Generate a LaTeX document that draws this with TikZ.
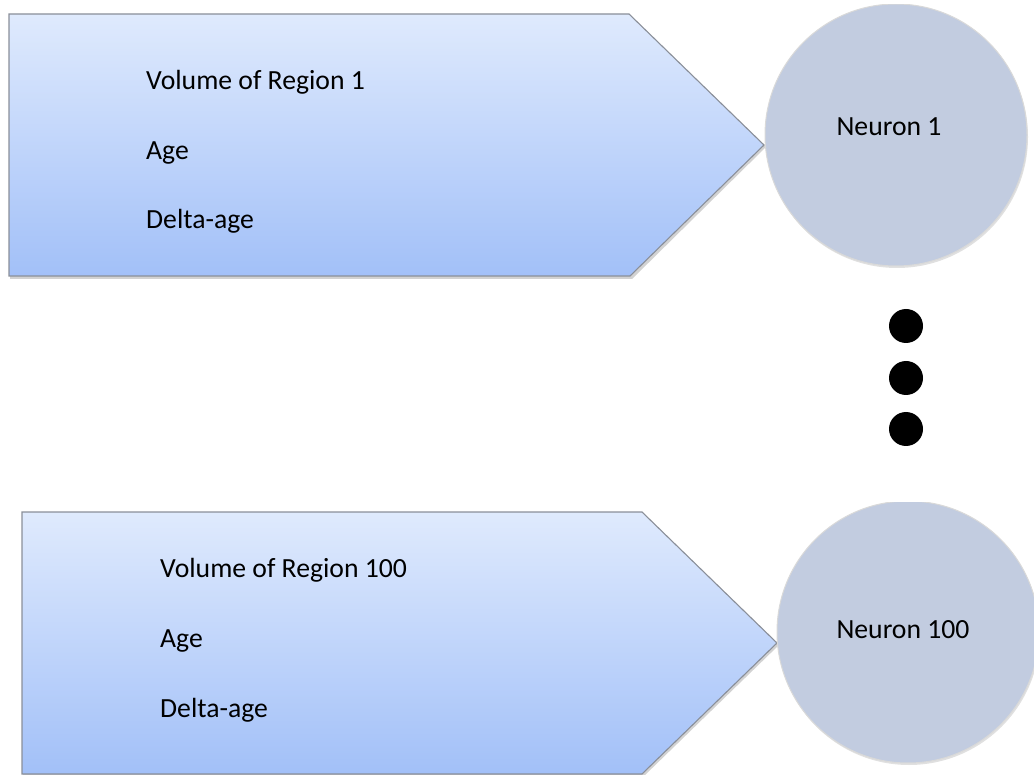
\documentclass[tikz,border=0pt]{standalone}
\usepackage{fontspec}
\setmainfont{Carlito}
\usetikzlibrary{shadings}
\definecolor{gradtop}{HTML}{DFEAFD}
\definecolor{gradbot}{HTML}{A2C0F8}
\definecolor{circfill}{HTML}{C2CCE0}
\definecolor{edgegray}{HTML}{8A8F99}
\tikzset{
  arrowshape/.style={top color=gradtop, bottom color=gradbot, draw=edgegray, line width=1.1pt, line join=miter},
  arrowshadow/.style={fill=black!35, draw=none, opacity=0.5},
  neuron/.style={circle, fill=circfill, draw=white!85!black, line width=1pt, minimum size=262pt, inner sep=0pt},
  neuronshadow/.style={circle, fill=black!30, opacity=0.4, minimum size=262pt, inner sep=0pt},
  itemtxt/.style={anchor=base west, inner sep=0pt, font=\fontsize{27.7}{33}\selectfont},
  neurontxt/.style={anchor=base, inner sep=0pt, font=\fontsize{27.7}{33}\selectfont},
  dot/.style={circle, fill=black, minimum size=34pt, inner sep=0pt}
}
\begin{document}
\begin{tikzpicture}[x=1pt,y=-1pt]
\useasboundingbox (0,0) rectangle (1034,775);
% top arrow
\fill[arrowshadow] (10,16) -- (631,16) -- (766,147) -- (632,279) -- (10,279) -- cycle;
\path[arrowshape] (9,14) -- (629,14) -- (764,145) -- (630,276) -- (9,276) -- cycle;
\coordinate (tip1) at (764,145);
% bottom arrow
\fill[arrowshadow] (23,514) -- (644,514) -- (779,645) -- (644,776) -- (23,776) -- cycle;
\path[arrowshape] (22,512) -- (642,512) -- (777,643) -- (642,774) -- (22,774) -- cycle;
\coordinate (tip2) at (777,643);
% neurons
\begin{scope}
\clip (0,5) rectangle (1034,775);
\node[neuronshadow] (s1) at (897,137) {};
\node[neuron] (c1) at (896,135) {};
\end{scope}
\begin{scope}
\clip (0,503) rectangle (1034,775);
\node[neuronshadow] (s2) at (909,634) {};
\node[neuron] (c2) at (908,632) {};
\end{scope}
% texts
\node[itemtxt] (v1) at (146,90) {Volume of Region 1};
\node[itemtxt] (a1) at (146,160) {Age};
\node[itemtxt] (d1) at (146,229) {Delta-age};
\node[itemtxt] (v2) at (160,577) {Volume of Region 100};
\node[itemtxt] (a2) at (160,647) {Age};
\node[itemtxt] (d2) at (160,717) {Delta-age};
\node[neurontxt] (t1) at (889,136) {Neuron 1};
\node[neurontxt] (t2) at (903,638) {Neuron 100};
% dots
\node[dot] (p1) at (906,326) {};
\node[dot] (p2) at (906,378) {};
\node[dot] (p3) at (906,429) {};
\end{tikzpicture}
\end{document}
